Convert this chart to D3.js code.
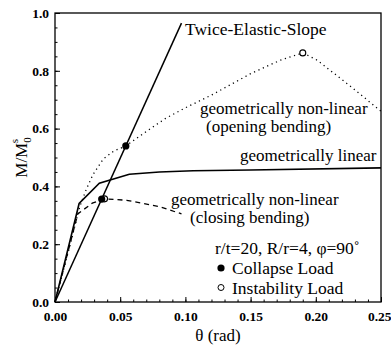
<!DOCTYPE html>
<html>
<head>
<meta charset="utf-8">
<script src="https://cdn.jsdelivr.net/npm/d3@7"></script>
<style>
  html, body { margin: 0; padding: 0; background: #fff; }
  svg { display: block; }
  text { font-family: "Liberation Serif", "Times New Roman", serif; fill: #000; }
</style>
</head>
<body>
<svg id="chart" width="391" height="355"></svg>
<script>
// Moment–rotation response of a pipe elbow (r/t=20, R/r=4, phi=90°)

// geometrically linear analysis
const linTheta = [0, 0.0185, 0.034, 0.057, 0.08, 0.106, 0.15, 0.25];
const linM     = [0, 0.341, 0.411, 0.442, 0.450, 0.454, 0.457, 0.464];

// geometrically non-linear, opening bending
const openTheta = [0, 0.010, 0.019, 0.024, 0.029, 0.037, 0.045, 0.0543, 0.070, 0.085, 0.100, 0.120, 0.150, 0.173, 0.190, 0.201, 0.227, 0.250];
const openM     = [0, 0.17, 0.330, 0.390, 0.440, 0.495, 0.522, 0.540, 0.590, 0.636, 0.672, 0.716, 0.790, 0.837, 0.862, 0.837, 0.745, 0.660];

// geometrically non-linear, closing bending
const closeTheta = [0, 0.0175, 0.0286, 0.038, 0.055, 0.080, 0.097];
const closeM     = [0, 0.305, 0.342, 0.357, 0.352, 0.330, 0.305];

// twice-elastic-slope construction line
const tesTheta = [0, 0.097];
const tesM     = [0, 0.965];

// collapse loads (filled) and instability loads (open)
const collapseTheta = [0.0358, 0.0543];
const collapseM     = [0.356, 0.540];
const instabTheta   = [0.038, 0.190];
const instabM       = [0.357, 0.862];

const xTicks = [0, 0.05, 0.10, 0.15, 0.20, 0.25];
const yTicks = [0, 0.2, 0.4, 0.6, 0.8, 1.0];

const W = 391, H = 355;
const margin = { left: 55, top: 13, right: 10, bottom: 53 };
const svg = d3.select("#chart");

const x = d3.scaleLinear().domain([0, 0.25]).range([margin.left, W - margin.right]);
const y = d3.scaleLinear().domain([0, 1.0]).range([H - margin.bottom, margin.top]);

// frame
svg.append("rect")
  .attr("x", x(0)).attr("y", y(1))
  .attr("width", x(0.25) - x(0)).attr("height", y(0) - y(1))
  .attr("fill", "none").attr("stroke", "#000").attr("stroke-width", 1.3);

// axes with inward ticks
const xAxis = svg.append("g").attr("transform", `translate(0,${y(0)})`)
  .call(d3.axisBottom(x).tickValues(xTicks).tickSize(-5).tickPadding(9).tickFormat(d3.format(".2f")));
const xMinor = svg.append("g").attr("transform", `translate(0,${y(0)})`)
  .call(d3.axisBottom(x).tickValues(d3.range(0, 0.2501, 0.01)).tickSize(-2.5).tickFormat(""));
const yAxis = svg.append("g").attr("transform", `translate(${x(0)},0)`)
  .call(d3.axisLeft(y).tickValues(yTicks).tickSize(-5).tickPadding(6).tickFormat(d3.format(".1f")));
const yMinor = svg.append("g").attr("transform", `translate(${x(0)},0)`)
  .call(d3.axisLeft(y).tickValues(d3.range(0, 1.001, 0.05)).tickSize(-2.5).tickFormat(""));

[xAxis, xMinor, yAxis, yMinor].forEach(g => {
  g.select(".domain").remove();
  g.selectAll("line").attr("stroke", "#000").attr("stroke-width", 1);
});
[xAxis, yAxis].forEach(g => {
  g.selectAll("text")
    .attr("font-family", "Liberation Serif")
    .attr("font-size", 13.5)
    .attr("font-weight", "bold")
    .attr("fill", "#000");
});
// keep the last x label inside the page
xAxis.selectAll(".tick").filter(d => d === 0.25).select("text")
  .attr("text-anchor", "end").attr("dx", 10);

// curves
const line = d3.line().x(d => x(d[0])).y(d => y(d[1]));
const pairs = (a, b) => a.map((v, i) => [v, b[i]]);

svg.append("path").datum(pairs(tesTheta, tesM)).attr("d", line)
  .attr("fill", "none").attr("stroke", "#000").attr("stroke-width", 1.5);
svg.append("path").datum(pairs(linTheta, linM)).attr("d", line)
  .attr("fill", "none").attr("stroke", "#000").attr("stroke-width", 1.6);
svg.append("path").datum(pairs(openTheta, openM)).attr("d", line)
  .attr("fill", "none").attr("stroke", "#000").attr("stroke-width", 1.3)
  .attr("stroke-dasharray", "1.2,3.6");
svg.append("path").datum(pairs(closeTheta, closeM)).attr("d", line)
  .attr("fill", "none").attr("stroke", "#000").attr("stroke-width", 1.3)
  .attr("stroke-dasharray", "5,4");

// load markers
svg.selectAll("circle.instab").data(pairs(instabTheta, instabM)).join("circle")
  .attr("class", "instab")
  .attr("cx", d => x(d[0])).attr("cy", d => y(d[1])).attr("r", 3)
  .attr("fill", "#fff").attr("stroke", "#000").attr("stroke-width", 1.1);
svg.selectAll("circle.collapse").data(pairs(collapseTheta, collapseM)).join("circle")
  .attr("class", "collapse")
  .attr("cx", d => x(d[0])).attr("cy", d => y(d[1])).attr("r", 3.6)
  .attr("fill", "#000");

// annotations
const note = (tx, ty, str, size = 17) => svg.append("text").attr("x", tx).attr("y", ty)
  .attr("font-size", size).text(str);
note(185, 35, "Twice-Elastic-Slope", 17.5);
note(200, 114, "geometrically non-linear");
note(206, 132, "(opening bending)");
note(240, 161, "geometrically linear");
note(171, 205, "geometrically non-linear");
note(190, 223, "(closing bending)");

// legend
note(215, 254, "r/t=20, R/r=4, \u03c6=90\u02da", 17.5);
svg.append("circle").attr("cx", 221).attr("cy", 268).attr("r", 3.6).attr("fill", "#000");
note(232, 274, "Collapse Load", 17.5);
svg.append("circle").attr("cx", 221).attr("cy", 287.5).attr("r", 3).attr("fill", "#fff")
  .attr("stroke", "#000").attr("stroke-width", 1);
note(232, 293.5, "Instability Load", 17.5);

// axis titles
svg.append("text").attr("x", (x(0) + x(0.25)) / 2).attr("y", 341)
  .attr("text-anchor", "middle").attr("font-size", 17).text("\u03b8 (rad)");

const yl = svg.append("text")
  .attr("transform", `translate(27,${(y(0) + y(1)) / 2}) rotate(-90)`)
  .attr("text-anchor", "middle").attr("font-size", 17);
yl.append("tspan").text("M/M");
yl.append("tspan").attr("font-size", 11).attr("dy", 4).text("0");
yl.append("tspan").attr("font-size", 11).attr("dx", -6).attr("dy", -13).text("s");
</script>
</body>
</html>
